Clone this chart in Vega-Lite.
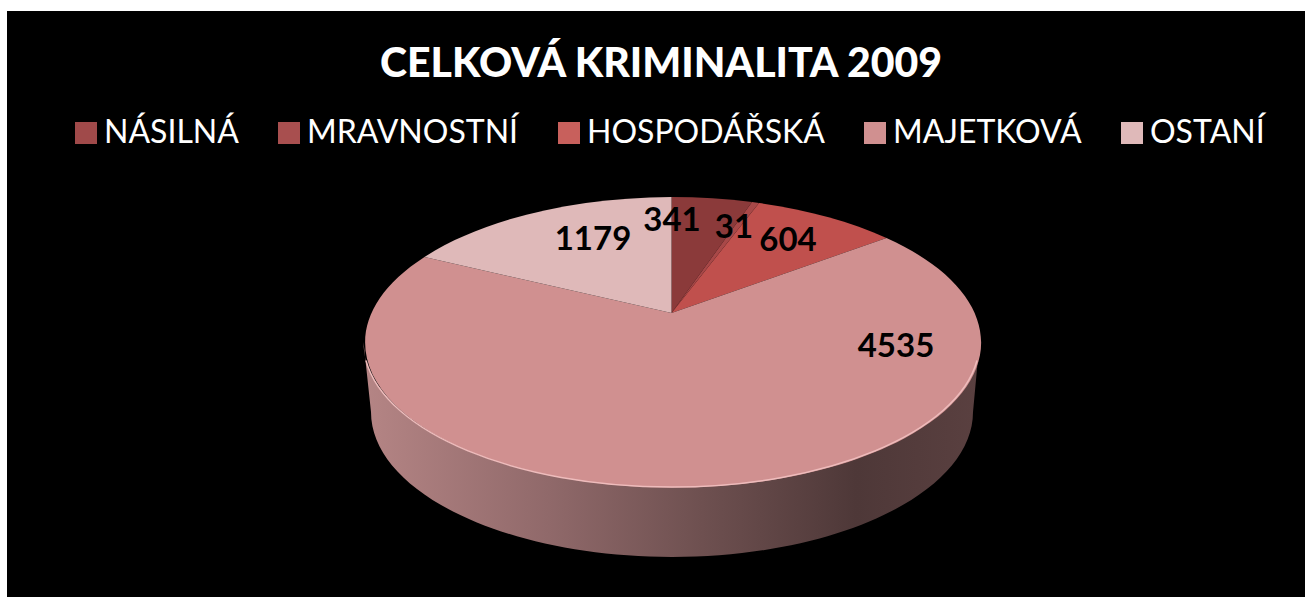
{
  "$schema": "https://vega.github.io/schema/vega-lite/v6.json",
  "width": 1298,
  "height": 586,
  "autosize": "none",
  "padding": {"left": 7, "top": 11, "right": 0, "bottom": 0},
  "background": "#ffffff",
  "view": {"fill": "#000000", "stroke": null},
  "title": {
    "text": "CELKOVÁ KRIMINALITA 2009",
    "anchor": "middle",
    "frame": "group",
    "font": "Lato",
    "fontWeight": 900,
    "fontSize": 41,
    "color": "#ffffff",
    "offset": -75,
    "dx": 5
  },
  "data": {
    "values": [
      {"category": "NÁSILNÁ", "value": 341},
      {"category": "MRAVNOSTNÍ", "value": 31},
      {"category": "HOSPODÁŘSKÁ", "value": 604},
      {"category": "MAJETKOVÁ", "value": 4535},
      {"category": "OSTANÍ", "value": 1179}
    ]
  },
  "layer": [
    {
      "mark": {"type": "square", "opacity": 1, "size": 4},
      "encoding": {
        "color": {
          "field": "category",
          "type": "nominal",
          "scale": {
            "domain": ["NÁSILNÁ", "MRAVNOSTNÍ", "HOSPODÁŘSKÁ", "MAJETKOVÁ", "OSTANÍ"],
            "range": ["#a04a4a", "#a84f4f", "#c8605c", "#d09090", "#dfb9b9"]
          },
          "legend": {
            "title": null,
            "orient": "none",
            "direction": "horizontal",
            "columns": 5,
            "legendX": 63,
            "legendY": 106,
            "columnPadding": 34,
            "gridAlign": "each",
            "symbolType": "square",
            "symbolSize": 484,
            "symbolStrokeWidth": 0,
            "symbolOpacity": 1,
            "labelFont": "Lato",
            "labelFontSize": 32,
            "labelColor": "#ffffff",
            "labelOffset": 2,
            "labelLimit": 400
          }
        }
      }
    },
    {
      "transform": [{"filter": "datum.category === 'MAJETKOVÁ'"}],
      "mark": {
        "type": "point",
        "filled": true,
        "opacity": 1,
        "size": 4,
        "shape": "M-292.5 38L-285 108A301 145 0 0 0 317 108L323.5 38A308 145 0 0 1 -292.5 38Z",
        "fill": {
          "x1": 0, "y1": 0, "x2": 1, "y2": 0,
          "gradient": "linear",
          "stops": [
            {"offset": 0, "color": "#b58585"},
            {"offset": 0.3, "color": "#90696a"},
            {"offset": 0.55, "color": "#6e5050"},
            {"offset": 0.8, "color": "#4e3838"},
            {"offset": 1, "color": "#5a4040"}
          ]
        }
      }
    },
    {
      "mark": {"type": "point", "filled": true, "opacity": 1, "size": 4},
      "encoding": {
        "fill": {
          "field": "category",
          "type": "nominal",
          "legend": null,
          "scale": {
            "domain": ["MRAVNOSTNÍ", "NÁSILNÁ", "HOSPODÁŘSKÁ", "MAJETKOVÁ", "OSTANÍ"],
            "range": ["#a84848", "#8b3a3a", "#c0504d", "#d09090", "#dfb9b9"]
          }
        },
        "shape": {
          "field": "category",
          "type": "nominal",
          "legend": null,
          "scale": {
            "domain": ["OSTANÍ", "MAJETKOVÁ", "HOSPODÁŘSKÁ", "MRAVNOSTNÍ", "NÁSILNÁ"],
            "range": [
              "M15.5 9L-231.5 -47A308 145 0 0 1 15.5 -107L15.5 9Z",
              "M15.5 9L230.5 -66A308 145 0 1 1 -231.5 -47L15.5 9Z",
              "M15.5 9L103 -101A308 145 0 0 1 230.5 -66L15.5 9Z",
              "M15.5 9L96 -102A308 145 0 0 1 103 -101L15.5 9Z",
              "M15.5 9L15.5 -107A308 145 0 0 1 96 -102L15.5 9Z"
            ]
          }
        }
      }
    },
    {
      "transform": [{"filter": "datum.category === 'MAJETKOVÁ'"}],
      "mark": {
        "type": "point",
        "filled": false,
        "opacity": 1,
        "size": 4,
        "stroke": "#eebcbc",
        "strokeWidth": 1.5,
        "shape": "M-290 56.5A308 145 0 0 0 321 56.5"
      }
    },
    {
      "mark": {
        "type": "text",
        "font": "Lato",
        "fontWeight": "bold",
        "fontSize": 33,
        "color": "#000000",
        "align": "center",
        "baseline": "middle"
      },
      "encoding": {
        "text": {"field": "value", "type": "quantitative"},
        "x": {
          "field": "value",
          "type": "quantitative",
          "axis": null,
          "scale": {"domain": [31, 341, 604, 1179, 4535], "range": [727, 665, 781, 586, 889]}
        },
        "y": {
          "field": "value",
          "type": "quantitative",
          "axis": null,
          "scale": {"domain": [31, 341, 604, 1179, 4535], "range": [217, 210, 230, 229, 336]}
        }
      }
    }
  ]
}
